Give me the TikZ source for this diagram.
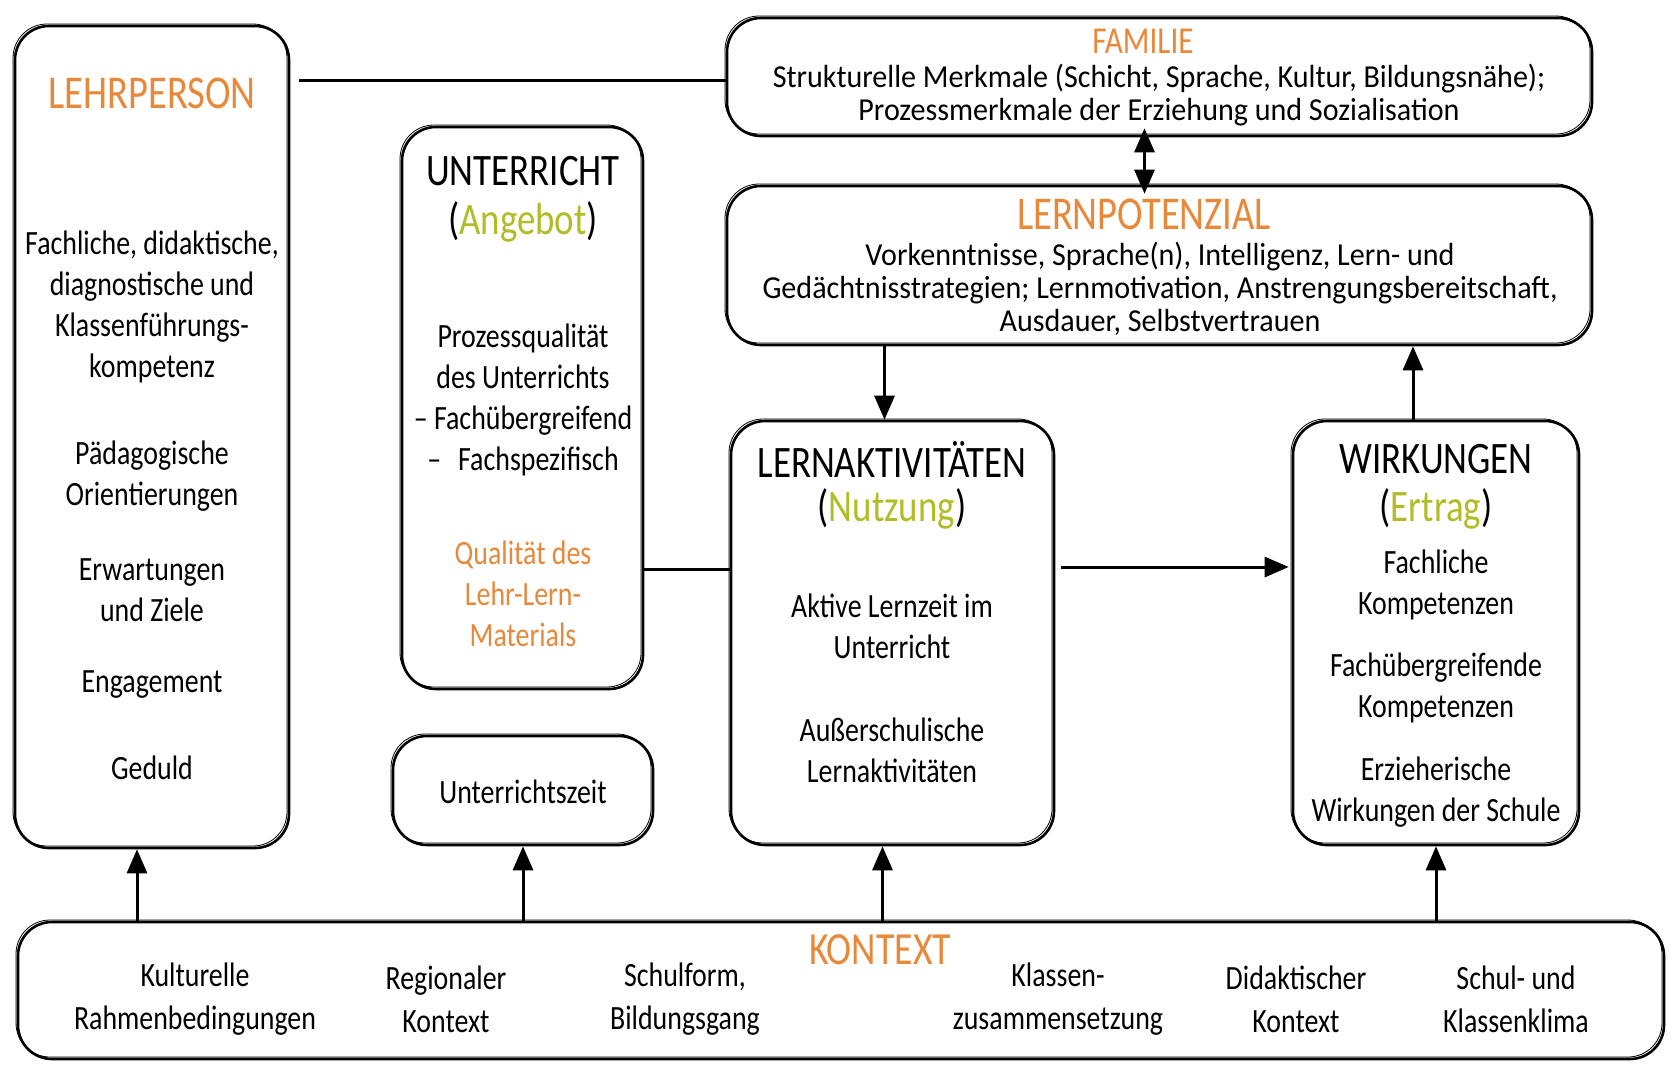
\documentclass[tikz,border=0pt]{standalone}
\usepackage{fontspec}
\setmainfont{Carlito}[FakeStretch=0.82]
\newfontfamily\widefont{Carlito}[FakeStretch=0.94]
\usetikzlibrary{arrows.meta,calc}
\definecolor{korange}{RGB}{232,136,58}
\definecolor{kgreen}{RGB}{178,188,38}
\begin{document}
\begin{tikzpicture}[x=1pt,y=-1pt,
  box/.style={draw=black, line width=2.6pt, rounded corners=34pt, inner sep=0pt,
    preaction={draw, line width=0.8pt, transform canvas={shift={(-2pt,2pt)}}}},
  body/.style={align=center, inner sep=0pt, font=\fontsize{34}{41}\selectfont},
  bodyw/.style={align=center, inner sep=0pt, font=\widefont\fontsize{32}{33}\selectfont},
  title/.style={inner sep=0pt, font=\fontsize{45}{48}\selectfont},
  otitle/.style={inner sep=0pt, text=korange, font=\fontsize{46}{48}\selectfont},
  conn/.style={draw=black, line width=3pt},
  arr/.style={conn, -{Triangle[length=24pt,width=20pt]}},
  darr/.style={conn, {Triangle[length=24pt,width=20pt]}-{Triangle[length=24pt,width=20pt]}}
]
\useasboundingbox (0,0) rectangle (1678,1068);
\fill[white] (0,0) rectangle (1678,1068);

% boxes
\node[box, minimum width=274pt, minimum height=822pt] (lehr) at (152,437) {};
\node[box, minimum width=241pt, minimum height=562pt] (unt) at (522.5,408) {};
\node[box, minimum width=260pt, minimum height=109pt] (uz) at (523,790.5) {};
\node[box, minimum width=865pt, minimum height=118pt] (fam) at (1159.5,77) {};
\node[box, minimum width=865pt, minimum height=159pt] (lpot) at (1159.5,265.5) {};
\node[box, minimum width=323pt, minimum height=424pt] (lakt) at (892.5,633) {};
\node[box, minimum width=286pt, minimum height=424pt] (wirk) at (1436,633) {};
\node[box, minimum width=1646pt, minimum height=137pt] (kon) at (841,990.5) {};

% LEHRPERSON
\node[otitle, font=\fontsize{47}{48}\selectfont] (lehrT) at (152,93) {LEHRPERSON};
\node[body] (lehr1) at (152,307) {Fachliche, didaktische,\\diagnostische und\\Klassenführungs-\\kompetenz};
\node[body] (lehr2) at (152,476) {Pädagogische\\Orientierungen};
\node[body] (lehr3) at (152,590) {Erwartungen\\und Ziele};
\node[body] (lehr4) at (152,685) {Engagement};
\node[body] (lehr5) at (152,768) {Geduld};

% UNTERRICHT
\node[title] (untT) at (523,171) {UNTERRICHT};
\node[title] (untA) at (523,222) {(\textcolor{kgreen}{Angebot})};
\node[body] (unt1) at (523,400) {Prozessqualität\\des Unterrichts\\– Fachübergreifend\\–\enspace Fachspezifisch};
\node[body, text=korange] (unt2) at (523,594) {Qualität des\\Lehr-Lern-\\Materials};
\node[body] (uzT) at (523,792) {Unterrichtszeit};

% FAMILIE
\node[otitle, font=\fontsize{38}{40}\selectfont] (famT) at (1143,41) {FAMILIE};
\node[bodyw] (fam1) at (1159,95) {Strukturelle Merkmale (Schicht, Sprache, Kultur, Bildungsnähe);\\Prozessmerkmale der Erziehung und Sozialisation};

% LERNPOTENZIAL
\node[otitle, font=\fontsize{47}{48}\selectfont] (lpotT) at (1144,214) {LERNPOTENZIAL};
\node[bodyw] (lpot1) at (1160,289) {Vorkenntnisse, Sprache(n), Intelligenz, Lern- und\\Gedächtnisstrategien; Lernmotivation, Anstrengungsbereitschaft,\\Ausdauer, Selbstvertrauen};

% LERNAKTIVITAETEN
\node[title] (laktT) at (892,459) {LERNAKTIVITÄTEN};
\node[title] (laktN) at (892,509) {(\textcolor{kgreen}{Nutzung})};
\node[body] (lakt1) at (892,626) {Aktive Lernzeit im\\Unterricht};
\node[body] (lakt2) at (892,750) {Außerschulische\\Lernaktivitäten};

% WIRKUNGEN
\node[title] (wirkT) at (1436,459) {WIRKUNGEN};
\node[title] (wirkE) at (1436,509) {(\textcolor{kgreen}{Ertrag})};
\node[body] (wirk1) at (1436,585) {Fachliche\\Kompetenzen};
\node[body] (wirk2) at (1436,688) {Fachübergreifende\\Kompetenzen};
\node[body] (wirk3) at (1436,792) {Erzieherische\\Wirkungen der Schule};

% KONTEXT
\node[otitle] (konT) at (880,950) {KONTEXT};
\node[body, font=\fontsize{34}{43}\selectfont] (k1) at (195,999) {Kulturelle\\Rahmenbedingungen};
\node[body, font=\fontsize{34}{43}\selectfont] (k2) at (446,999) {Regionaler\\Kontext};
\node[body, font=\fontsize{34}{43}\selectfont] (k3) at (685,999) {Schulform,\\Bildungsgang};
\node[body, font=\fontsize{34}{43}\selectfont] (k4) at (1058,999) {Klassen-\\zusammensetzung};
\node[body, font=\fontsize{34}{43}\selectfont] (k5) at (1296,999) {Didaktischer\\Kontext};
\node[body, font=\fontsize{34}{43}\selectfont] (k6) at (1516,999) {Schul- und\\Klassenklima};

% connectors
\coordinate (lf) at ([yshift=-3pt]fam.west);
\draw[conn, shorten <=9pt] (lehr.east |- lf) -- (lf);
\coordinate (ul) at ([yshift=64pt]lakt.west);
\draw[conn] (unt.east |- ul) -- (ul);
\draw[arr, shorten <=6pt, shorten >=3pt] ([yshift=66pt]lakt.east) -- ([yshift=66pt]wirk.west);
\coordinate (fp) at ([xshift=-15pt]fam.south);
\draw[darr, shorten <=-9pt, shorten >=-9pt] (fp) -- (fp |- lpot.north);
\coordinate (pa) at ([xshift=-8pt]lakt.north);
\draw[arr] (pa |- lpot.south) -- (pa);
\coordinate (wp) at ([xshift=-23pt]wirk.north);
\draw[arr] (wp) -- (wp |- lpot.south);
\coordinate (c1) at ([xshift=-15pt]lehr.south);
\draw[arr] (c1 |- kon.north) -- (c1);
\coordinate (c2) at (uz.south);
\draw[arr] (c2 |- kon.north) -- (c2);
\coordinate (c3) at ([xshift=-10pt]lakt.south);
\draw[arr] (c3 |- kon.north) -- (c3);
\coordinate (c4) at (wirk.south);
\draw[arr] (c4 |- kon.north) -- (c4);
\end{tikzpicture}
\end{document}
